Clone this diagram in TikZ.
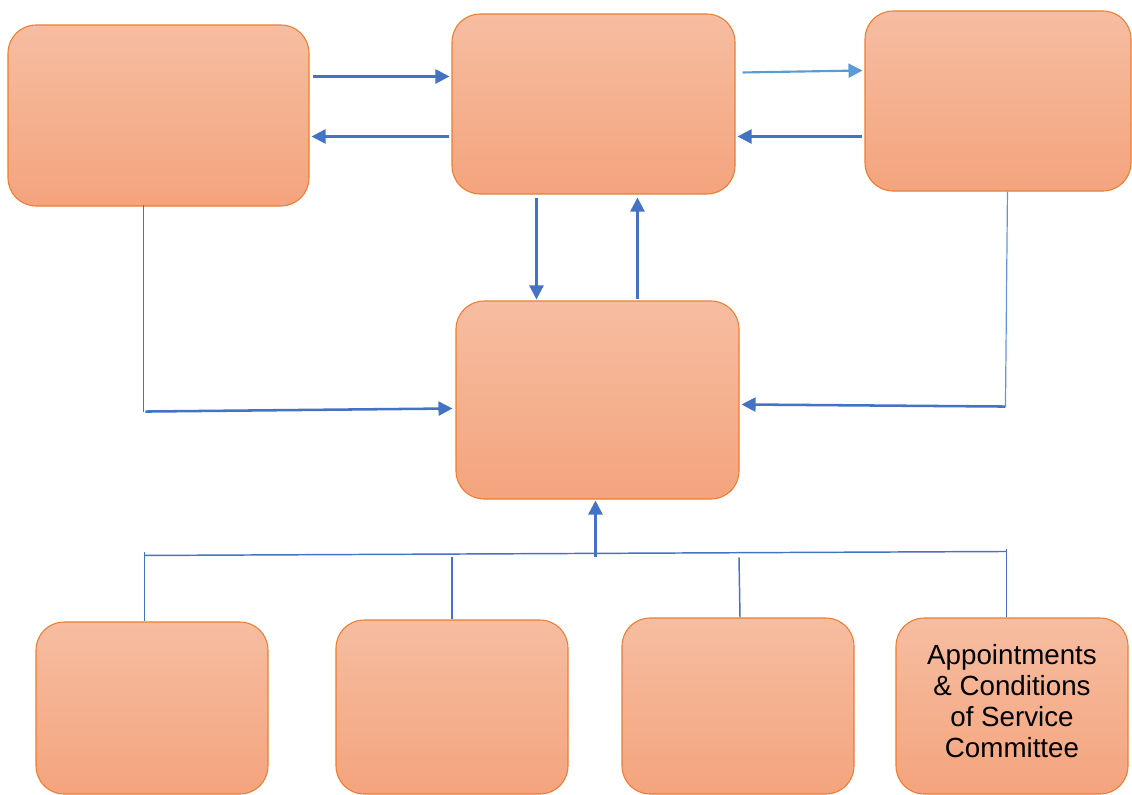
\documentclass[tikz,border=0pt]{standalone}
\usepackage{fontspec}
\setmainfont{Liberation Sans}
\usetikzlibrary{arrows.meta,calc}
\definecolor{boxtop}{HTML}{F6BDA1}
\definecolor{boxbot}{HTML}{F4A47D}
\definecolor{boxline}{HTML}{ED7D31}
\definecolor{arrblue}{HTML}{4472C4}
\definecolor{litblue}{HTML}{5B9BD5}
\tikzset{
  box/.style={draw=boxline, line width=0.8pt, rounded corners=21pt, top color=boxtop, bottom color=boxbot, inner sep=0pt, align=center},
  arr/.style={draw=arrblue, line width=1.9pt, -{Triangle[length=10.5pt,width=10.5pt]}},
  larr/.style={draw=litblue, line width=1.6pt, -{Triangle[length=10.5pt,width=10.5pt]}},
  thin line/.style={draw=arrblue, line width=0.9pt},
  lite line/.style={draw=litblue, line width=0.9pt},
  bus/.style={draw=arrblue, line width=1.1pt}
}
\begin{document}
\begin{tikzpicture}[x=0.75pt,y=-0.75pt]
\useasboundingbox (0,0) rectangle (1132,794);
% boxes
\node[box, minimum width=225.75pt, minimum height=135.75pt] (tl) at (158.5,115.5) {};
\node[box, minimum width=212.25pt, minimum height=135pt] (tm) at (593.5,104) {};
\node[box, minimum width=199.5pt, minimum height=135pt] (tr) at (998,101) {};
\node[box, minimum width=212.25pt, minimum height=148.5pt] (c) at (597.5,400) {};
\node[box, minimum width=174pt, minimum height=129pt] (b1) at (152,708) {};
\node[box, minimum width=174pt, minimum height=130.5pt] (b2) at (452,707) {};
\node[box, minimum width=174pt, minimum height=132pt] (b3) at (738,706) {};
\node[box, minimum width=174pt, minimum height=132pt] (b4) at (1012,706) {};
\node[font=\fontsize{20.8pt}{23.4pt}\selectfont, align=center, inner sep=0pt] (t4) at (1012,701)
  {Appointments\\\& Conditions\\of Service\\Committee};
% top row arrows
\draw[arr] ($(tl.north east)+(3,52)$) -- ($(tm.north west)+(-2,63)$);
\draw[arr] ($(tm.north west)+(-2,123)$) -- ($(tl.north east)+(2,112)$);
\draw[larr] ($(tm.north east)+(7,59)$) -- ($(tr.north west)+(-2,60)$);
\draw[arr] ($(tr.north west)+(-2,126)$) -- ($(tm.north east)+(2,123)$);
% vertical arrows between top middle and centre
\draw[arr] ($(tm.south west)+(85,3)$) -- ($(c.north west)+(81,-1)$);
\draw[arr] ($(c.north west)+(182,-1)$) -- ($(tm.south west)+(186,3)$);
% left feed
\coordinate (lb) at ($(tl.south west)+(136,205)$);
\draw[thin line] ($(tl.south west)+(136,-2)$) -- (lb);
\draw[arr] ($(lb)+(2,0)$) -- ($(c.north west)+(-3,108)$);
% right feed
\coordinate (rb) at ($(tr.south west)+(141,215)$);
\draw[lite line] ($(tr.south west)+(143,0)$) -- (rb);
\draw[arr] (rb) -- ($(c.north east)+(2,104)$);
% bottom bus
\coordinate (busl) at ($(b1.north west)+(109,-66)$);
\coordinate (busr) at ($(b4.north west)+(111,-66)$);
\draw[bus] (busl) -- (busr);
\draw[bus] ($(busl)+(0,-3)$) -- (b1.north west -| busl);
\draw[bus] ($(b2.north)+(0,-62)$) -- (b2.north);
\draw[bus] ($(b3.north)+(1,-60)$) -- ($(b3.north)+(2,0)$);
\draw[bus] ($(busr)+(0,-2)$) -- (b4.north west -| busr);
\draw[arr] ($(c.south west)+(140,57)$) -- ($(c.south west)+(140,1)$);
\end{tikzpicture}
\end{document}
